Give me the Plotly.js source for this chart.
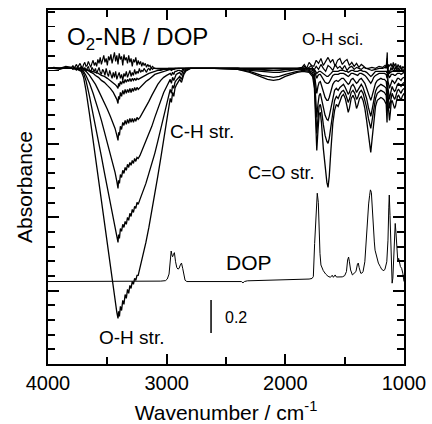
<!DOCTYPE html>
<html>
<head>
<meta charset="utf-8">
<script src="https://cdn.plot.ly/plotly-3.0.1.min.js"></script>
<style>html,body{margin:0;padding:0;background:#fff;}#chart{width:432px;height:424px;}</style>
</head>
<body>
<div id="chart"></div>
<script>
// ---------- data ----------
// difference spectra are stored relative to their common display baseline
var diffOffset = 2.015;

// O-H / C-H region wavenumbers (cm-1)
var wnOH = [4000, 3900, 3800, 3750, 3720, 3700, 3680, 3650, 3620, 3600,
  3575, 3550, 3525, 3500, 3475, 3450, 3435, 3420, 3410, 3405,
  3398, 3390, 3380, 3370, 3360, 3350, 3340, 3330, 3320, 3310,
  3300, 3290, 3280, 3270, 3260, 3250, 3240, 3225, 3200, 3175,
  3150, 3125, 3100, 3075, 3050, 3025, 3000, 2985, 2970, 2960,
  2950, 2940, 2930, 2920, 2905, 2890, 2875, 2865, 2855, 2840,
  2820, 2800];

// fingerprint region wavenumbers (cm-1)
var wnFP = [2600, 2400, 2300, 2200, 2150, 2100, 2050, 2000, 1900, 1850,
  1800, 1770, 1755, 1745, 1735, 1725, 1715, 1705, 1695, 1680,
  1665, 1650, 1640, 1630, 1615, 1600, 1585, 1570, 1555, 1540,
  1525, 1510, 1495, 1480, 1470, 1460, 1445, 1430, 1415, 1400,
  1390, 1375, 1360, 1345, 1330, 1315, 1300, 1290, 1280, 1270,
  1255, 1240, 1225, 1210, 1195, 1180, 1165, 1150, 1143, 1138,
  1130, 1122, 1115, 1108, 1100, 1090, 1080, 1072, 1065, 1055,
  1045, 1035, 1025, 1015, 1000];

// spectrum E (deepest)
var diffE_OH = [0, 0, 0, -0.007, -0.02, -0.061, -0.15, -0.314, -0.491, -0.614,
  -0.763, -0.913, -1.063, -1.213, -1.363, -1.513, -1.595, -1.663, -1.704, -1.656,
  -1.691, -1.622, -1.65, -1.581, -1.609, -1.541, -1.568, -1.506, -1.534, -1.479,
  -1.50, -1.452, -1.472, -1.431, -1.445, -1.411, -1.411, -1.363, -1.282, -1.186,
  -1.084, -0.975, -0.859, -0.736, -0.614, -0.491, -0.368, -0.286, -0.205, -0.232,
  -0.164, -0.191, -0.136, -0.116, -0.095, -0.075, -0.095, -0.055, -0.041, -0.02,
  -0.007, 0];
var diffE_FP = [0, -0.007, -0.027, -0.061, -0.075, -0.082, -0.075, -0.055, -0.027, -0.02,
  -0.027, -0.055, -0.136, -0.341, -0.559, -0.423, -0.314, -0.3, -0.375, -0.545,
  -0.682, -0.777, -0.811, -0.736, -0.545, -0.375, -0.286, -0.245, -0.259, -0.218,
  -0.191, -0.177, -0.205, -0.259, -0.3, -0.273, -0.205, -0.184, -0.211, -0.273,
  -0.252, -0.205, -0.191, -0.218, -0.273, -0.354, -0.464, -0.545, -0.573, -0.491,
  -0.354, -0.259, -0.218, -0.205, -0.198, -0.205, -0.218, -0.245, -0.368, -0.205,
  -0.286, -0.354, -0.3, -0.232, -0.218, -0.245, -0.273, -0.259, -0.218, -0.191,
  -0.184, -0.205, -0.218, -0.191, -0.17];

// spectrum D
var diffD_OH = [0, 0, 0, -0.007, -0.014, -0.034, -0.082, -0.191, -0.307, -0.389,
  -0.491, -0.6, -0.709, -0.818, -0.92, -1.022, -1.084, -1.145, -1.186, -1.132,
  -1.159, -1.091, -1.111, -1.063, -1.084, -1.043, -1.063, -1.016, -1.036, -0.988,
  -1.009, -0.961, -0.982, -0.941, -0.954, -0.913, -0.927, -0.893, -0.845, -0.784,
  -0.716, -0.654, -0.579, -0.498, -0.416, -0.327, -0.245, -0.191, -0.143, -0.17,
  -0.116, -0.136, -0.095, -0.082, -0.068, -0.055, -0.075, -0.041, -0.027, -0.014,
  -0.007, 0];
var diffD_FP = [0, -0.007, -0.02, -0.048, -0.055, -0.061, -0.055, -0.041, -0.02, -0.014,
  -0.02, -0.041, -0.102, -0.273, -0.443, -0.341, -0.259, -0.245, -0.286, -0.382,
  -0.457, -0.498, -0.511, -0.477, -0.382, -0.273, -0.218, -0.191, -0.205, -0.177,
  -0.157, -0.15, -0.17, -0.205, -0.232, -0.211, -0.164, -0.15, -0.17, -0.211,
  -0.198, -0.164, -0.15, -0.17, -0.211, -0.266, -0.341, -0.389, -0.409, -0.361,
  -0.273, -0.205, -0.17, -0.157, -0.15, -0.157, -0.164, -0.184, -0.273, -0.157,
  -0.211, -0.273, -0.232, -0.184, -0.17, -0.191, -0.211, -0.198, -0.17, -0.15,
  -0.143, -0.157, -0.17, -0.15, -0.136];

// spectrum C
var diffC_OH = [0, 0, 0, 0, -0.007, -0.02, -0.048, -0.102, -0.17, -0.218,
  -0.286, -0.354, -0.429, -0.511, -0.586, -0.661, -0.709, -0.77, -0.818, -0.763,
  -0.784, -0.723, -0.743, -0.695, -0.716, -0.675, -0.695, -0.654, -0.675, -0.641,
  -0.661, -0.627, -0.648, -0.614, -0.634, -0.607, -0.614, -0.593, -0.545, -0.498,
  -0.45, -0.395, -0.334, -0.273, -0.211, -0.164, -0.123, -0.095, -0.075, -0.102,
  -0.061, -0.082, -0.055, -0.041, -0.034, -0.027, -0.048, -0.02, -0.014, -0.007,
  0, 0];
var diffC_FP = [0, 0, -0.014, -0.02, -0.027, -0.027, -0.027, -0.02, -0.007, -0.007,
  -0.014, -0.027, -0.068, -0.191, -0.334, -0.245, -0.184, -0.17, -0.205, -0.266,
  -0.32, -0.348, -0.354, -0.327, -0.259, -0.191, -0.15, -0.136, -0.15, -0.13,
  -0.116, -0.109, -0.13, -0.157, -0.177, -0.164, -0.123, -0.109, -0.13, -0.164,
  -0.15, -0.123, -0.109, -0.13, -0.164, -0.205, -0.266, -0.307, -0.327, -0.286,
  -0.211, -0.157, -0.13, -0.116, -0.109, -0.116, -0.123, -0.136, -0.205, -0.116,
  -0.164, -0.211, -0.177, -0.136, -0.123, -0.143, -0.157, -0.15, -0.13, -0.109,
  -0.102, -0.116, -0.123, -0.109, -0.095];

// spectrum B
var diffB_OH = [0, 0, 0, 0, 0, -0.007, -0.02, -0.048, -0.082, -0.109,
  -0.15, -0.191, -0.232, -0.279, -0.327, -0.375, -0.409, -0.457, -0.491, -0.436,
  -0.457, -0.395, -0.416, -0.368, -0.389, -0.354, -0.382, -0.348, -0.375, -0.341,
  -0.368, -0.341, -0.368, -0.341, -0.361, -0.334, -0.348, -0.334, -0.3, -0.266,
  -0.225, -0.184, -0.143, -0.109, -0.082, -0.061, -0.048, -0.041, -0.034, -0.048,
  -0.027, -0.041, -0.02, -0.02, -0.014, -0.014, -0.02, -0.007, -0.007, 0,
  0, 0];
var diffB_FP = [0, 0, -0.007, -0.014, -0.014, -0.014, -0.014, -0.007, 0, 0,
  -0.007, -0.014, -0.034, -0.095, -0.17, -0.123, -0.095, -0.089, -0.116, -0.164,
  -0.198, -0.218, -0.218, -0.198, -0.15, -0.109, -0.089, -0.082, -0.089, -0.075,
  -0.068, -0.068, -0.082, -0.095, -0.109, -0.102, -0.075, -0.068, -0.082, -0.102,
  -0.095, -0.075, -0.068, -0.082, -0.102, -0.136, -0.177, -0.205, -0.218, -0.191,
  -0.136, -0.102, -0.082, -0.075, -0.068, -0.075, -0.075, -0.089, -0.136, -0.075,
  -0.102, -0.136, -0.116, -0.089, -0.082, -0.089, -0.102, -0.095, -0.082, -0.068,
  -0.068, -0.075, -0.082, -0.068, -0.061];

// spectrum A
var diffA_OH = [0, 0, 0, 0, 0, 0, -0.007, -0.02, -0.034, -0.048,
  -0.061, -0.082, -0.095, -0.116, -0.136, -0.164, -0.184, -0.211, -0.239, -0.191,
  -0.211, -0.164, -0.191, -0.15, -0.177, -0.143, -0.17, -0.143, -0.164, -0.136,
  -0.164, -0.136, -0.157, -0.13, -0.15, -0.13, -0.143, -0.13, -0.109, -0.089,
  -0.075, -0.055, -0.041, -0.034, -0.027, -0.02, -0.014, -0.014, -0.007, -0.014,
  -0.007, -0.007, 0, 0, 0, 0, 0, 0, 0, 0,
  0, 0];
var diffA_FP = [0, 0, 0, 0, 0, 0, 0, 0, 0, 0,
  0, -0.007, -0.014, -0.041, -0.068, -0.048, -0.041, -0.041, -0.055, -0.075,
  -0.095, -0.102, -0.102, -0.095, -0.068, -0.048, -0.041, -0.041, -0.041, -0.034,
  -0.034, -0.034, -0.041, -0.048, -0.055, -0.048, -0.034, -0.034, -0.041, -0.048,
  -0.048, -0.034, -0.034, -0.041, -0.048, -0.061, -0.082, -0.095, -0.102, -0.089,
  -0.061, -0.048, -0.041, -0.034, -0.034, -0.034, -0.034, -0.041, -0.068, -0.034,
  -0.048, -0.061, -0.055, -0.041, -0.041, -0.041, -0.048, -0.048, -0.041, -0.034,
  -0.034, -0.034, -0.041, -0.034, -0.027];

// spectrum N3 (small)
var diffN3_OH = [0, 0, 0, 0, 0, 0, -0.007, -0.014, -0.02, -0.027,
  -0.034, -0.048, -0.055, -0.068, -0.082, -0.095, -0.109, -0.123, -0.136, -0.102,
  -0.123, -0.089, -0.109, -0.082, -0.102, -0.075, -0.095, -0.075, -0.089, -0.068,
  -0.089, -0.068, -0.082, -0.068, -0.082, -0.068, -0.075, -0.068, -0.055, -0.048,
  -0.034, -0.027, -0.02, -0.014, -0.014, -0.007, -0.007, 0, 0, 0,
  0, 0, 0, 0, 0, 0, 0, 0, 0, 0,
  0, 0];
var diffN3_FP = [0, 0, 0, 0, 0, 0, 0, 0, 0, 0,
  0, 0, -0.007, -0.02, -0.034, -0.027, -0.02, -0.02, -0.027, -0.034,
  -0.048, -0.055, -0.055, -0.048, -0.034, -0.02, -0.02, -0.02, -0.02, -0.014,
  -0.014, -0.014, -0.02, -0.02, -0.027, -0.02, -0.014, -0.014, -0.02, -0.02,
  -0.02, -0.014, -0.014, -0.02, -0.02, -0.027, -0.041, -0.048, -0.055, -0.048,
  -0.034, -0.02, -0.02, -0.02, -0.02, -0.02, -0.02, -0.02, -0.034, -0.014,
  -0.02, -0.034, -0.027, -0.02, -0.02, -0.02, -0.02, -0.02, -0.02, -0.02,
  -0.02, -0.02, -0.02, -0.02, -0.02];

// noisy early spectra N1, N2 on a finer grid
var wnNoise = [4000, 3950, 3900, 3850,
  3800, 3790, 3780, 3770, 3760, 3750, 3740, 3730, 3720, 3710,
  3700, 3690, 3680, 3670, 3660, 3650, 3640, 3630, 3620, 3610,
  3600, 3590, 3580, 3570, 3560, 3550, 3540, 3530, 3520, 3510,
  3500, 3490, 3480, 3470, 3460, 3450, 3440, 3430, 3420, 3410,
  3400, 3390, 3380, 3370, 3360, 3350, 3340, 3330, 3320, 3310,
  3300, 3290, 3280, 3270, 3260, 3250, 3240, 3230, 3220, 3210,
  3200, 3190, 3180, 3170, 3160, 3150, 3140, 3130, 3120, 3110, 3100,
  3050, 3000, 2950, 2900, 2850, 2800, 2700, 2600, 2500, 2400, 2300, 2200, 2100, 2000, 1900,
  1860, 1840, 1820, 1800, 1780, 1760, 1740, 1720, 1700, 1680,
  1660, 1640, 1620, 1600, 1580, 1560, 1540, 1520, 1500, 1480,
  1460, 1440, 1420, 1400, 1380, 1360, 1340, 1320,
  1300, 1270, 1240, 1210, 1180, 1160, 1150, 1145, 1141, 1137, 1130, 1120,
  1110, 1100, 1090, 1080, 1070, 1060, 1050, 1040, 1030, 1020, 1010, 1000];
var diffN1 = [0, 0.007, 0, 0.014,
  0.007, 0.02, 0, 0.014, 0.027, 0.007, 0.02, 0.034, 0.014, 0,
  0.027, 0.041, 0.014, 0.02, 0.048, 0.027, 0.007, 0.034, 0.055, 0.02,
  0.041, 0.014, 0.061, 0.034, 0.075, 0.027, 0.055, 0.089, 0.041, 0.068,
  0.02, 0.082, 0.055, 0.095, 0.034, 0.075, 0.109, 0.048, 0.089, 0.027,
  0.102, 0.061, 0.082, 0.02, 0.095, 0.055, 0.075, 0.034, 0.089, 0.041,
  0.068, 0.014, 0.061, 0.041, 0.075, 0.02, 0.055, 0.027, 0.048, 0.014,
  0.041, 0.02, 0.034, 0.007, 0.027, 0.014, 0.02, 0, 0.014, 0.007, 0,
  0, 0, 0, 0, 0, 0, 0, 0, 0, 0, 0, 0, 0, 0, 0,
  0.007, 0.027, 0, 0.041, 0.02, 0.014, 0.055, 0.034, 0.068, 0.02,
  0.048, 0.075, 0.041, 0.061, 0.014, 0.055, 0.068, 0.027, 0.048, 0.061,
  0.02, 0.041, 0.014, 0.034, 0.007, 0.027, 0.014, 0,
  0, 0.007, 0, 0.014, 0.007, 0.02, 0.007, 0.041, 0.109, -0.055, 0.027, 0.014,
  0.034, 0.007, 0.041, 0.014, 0.034, 0, 0.027, 0.007, 0.02, -0.014, 0.014, 0];
var diffN2 = [0, 0, -0.007, 0.007,
  0, -0.007, 0.007, 0, -0.014, 0.007, -0.007, 0, 0.014, -0.007,
  -0.014, 0.007, -0.02, 0, 0.014, -0.014, -0.027, 0.007, -0.007, -0.02,
  0, -0.034, -0.014, 0.007, -0.027, -0.041, -0.007, -0.02, -0.048, 0,
  -0.034, -0.055, -0.014, -0.041, -0.068, -0.027, -0.061, -0.02, -0.075, -0.048,
  -0.027, -0.068, -0.041, -0.082, -0.034, -0.055, -0.02, -0.061, -0.041, -0.014,
  -0.055, -0.027, -0.048, -0.007, -0.041, -0.02, -0.034, 0, -0.027, -0.014,
  -0.02, 0, -0.014, -0.027, -0.007, 0, -0.014, 0.007, -0.007, 0, 0,
  -0.007, -0.007, -0.007, 0, 0, 0, 0, 0, 0, 0, -0.007, -0.007, -0.014, -0.007, 0,
  0, 0.014, -0.007, 0.007, 0.02, -0.014, 0.014, -0.007, 0.027, 0,
  -0.02, 0.02, 0.007, -0.014, 0.027, 0, 0.014, -0.007, 0.02, -0.014,
  0.007, 0.014, -0.007, 0.007, 0, -0.007, 0.007, 0,
  -0.007, -0.014, -0.007, 0, 0, 0.007, 0, 0.027, 0.068, -0.082, -0.014, -0.027,
  0.007, -0.014, 0.02, -0.02, 0.014, -0.014, 0.007, -0.02, 0.014, -0.007, -0.014, -0.007];

// reference DOP spectrum (absolute values as displayed)
var wnDOP = [4000, 3800, 3600, 3400, 3200, 3050, 3010, 2995, 2980, 2970,
  2962, 2955, 2950, 2942, 2935, 2925, 2915, 2905, 2895, 2885,
  2875, 2865, 2855, 2845, 2830, 2700, 2500, 2400, 2370, 2357,
  2345, 2320, 2200, 2000, 1900, 1800, 1775, 1764, 1753, 1742,
  1731, 1722, 1715, 1708, 1700, 1690, 1680, 1660, 1640, 1620,
  1605, 1595, 1580, 1570, 1540, 1520, 1500, 1485, 1475, 1467,
  1460, 1450, 1435, 1420, 1405, 1392, 1385, 1378, 1365, 1355,
  1345, 1330, 1320, 1305, 1298, 1290, 1283, 1275, 1268, 1259,
  1250, 1244, 1230, 1216, 1200, 1188, 1170, 1160, 1145, 1135,
  1128, 1124, 1118, 1112, 1106, 1100, 1094, 1088, 1080, 1074,
  1068, 1060, 1052, 1045, 1040, 1030, 1020, 1010, 1000];
var absDOP = [0.562, 0.562, 0.562, 0.564, 0.562, 0.565, 0.568, 0.579, 0.613, 0.686,
  0.770, 0.742, 0.731, 0.748, 0.759, 0.697, 0.658, 0.647, 0.652, 0.675,
  0.688, 0.652, 0.602, 0.571, 0.562, 0.562, 0.565, 0.566, 0.562, 0.553,
  0.562, 0.567, 0.569, 0.573, 0.576, 0.579, 0.583, 0.596, 0.821, 1.046,
  1.164, 1.102, 0.900, 0.754, 0.675, 0.647, 0.636, 0.613, 0.598, 0.591,
  0.605, 0.591, 0.607, 0.593, 0.591, 0.594, 0.602, 0.630, 0.709, 0.729,
  0.697, 0.641, 0.607, 0.619, 0.630, 0.681, 0.688, 0.658, 0.619, 0.619,
  0.630, 0.697, 0.832, 1.069, 1.091, 1.147, 1.187, 1.170, 1.046, 0.936,
  0.832, 0.776, 0.720, 0.688, 0.664, 0.645, 0.636, 0.647, 0.697, 0.844,
  1.069, 1.152, 1.012, 0.787, 0.585, 0.551, 0.585, 0.731, 0.900, 0.958,
  0.900, 0.765, 0.697, 0.720, 0.697, 0.664, 0.652, 0.619, 0.562];

// ticks
var xTickVals = [4000, 3000, 2000, 1000];
var xTickText = ['4000', '3000', '2000', '1000'];
var xMinorVals = [3500, 2500, 1500];

// ---------- build traces ----------
var FONT = 'Liberation Sans, Arial, Helvetica, sans-serif';
function shifted(arr) { return arr.map(function (v) { return v + diffOffset; }); }
var wnAll = wnOH.concat(wnFP);
var traces = [];
var lineStyle = {color: '#000', width: 1.3};
traces.push({x: wnNoise, y: shifted(diffN1), type: 'scatter', mode: 'lines', line: {color: '#000', width: 1.2}});
traces.push({x: wnNoise, y: shifted(diffN2), type: 'scatter', mode: 'lines', line: {color: '#000', width: 1.2}});
[[diffN3_OH, diffN3_FP], [diffA_OH, diffA_FP], [diffB_OH, diffB_FP],
 [diffC_OH, diffC_FP], [diffD_OH, diffD_FP], [diffE_OH, diffE_FP]].forEach(function (p) {
  traces.push({x: wnAll, y: shifted(p[0].concat(p[1])), type: 'scatter', mode: 'lines', line: lineStyle});
});
// DOP drawn on the overlay axes (same ranges) that carry the long ticks
traces.push({x: wnDOP, y: absDOP, xaxis: 'x2', yaxis: 'y2', type: 'scatter', mode: 'lines', line: {color: '#000', width: 1}});

function ann(text, x, y, size, xanchor) {
  return {text: text, x: x, y: y, xref: 'x', yref: 'y', showarrow: false,
    xanchor: xanchor || 'center', yanchor: 'middle', font: {family: FONT, size: size, color: '#000'}};
}

var axisCommon = {
  showline: true, linecolor: '#000', linewidth: 1.8, mirror: 'ticks',
  showgrid: false, zeroline: false, ticks: 'inside', tickwidth: 1.8, tickcolor: '#000'
};

var layout = {
  width: 432, height: 424,
  margin: {l: 48, r: 28, t: 10, b: 60},
  paper_bgcolor: '#fff', plot_bgcolor: '#fff',
  showlegend: false,
  hovermode: false,
  xaxis: Object.assign({}, axisCommon, {
    range: [4000, 1000], autorange: false,
    tickmode: 'array', tickvals: xTickVals, ticktext: xTickText, ticklen: 10,
    tickfont: {family: FONT, size: 20, color: '#000'},
    title: {text: 'Wavenumber / cm<sup>-1</sup>', font: {family: FONT, size: 21, color: '#000'}, standoff: 13}
  }),
  yaxis: Object.assign({}, axisCommon, {
    range: [0, 2.413], autorange: false,
    tick0: 0, dtick: 0.1, ticklen: 7, showticklabels: false,
    title: {text: 'Absorbance', font: {family: FONT, size: 21, color: '#000'}, standoff: 8}
  }),
  xaxis2: Object.assign({}, axisCommon, {
    overlaying: 'x', anchor: 'y2', side: 'bottom',
    range: [4000, 1000], autorange: false,
    tickmode: 'array', tickvals: xMinorVals, ticklen: 7, showticklabels: false
  }),
  yaxis2: Object.assign({}, axisCommon, {
    overlaying: 'y', anchor: 'x2', side: 'left',
    range: [0, 2.413], autorange: false,
    tick0: 0, dtick: 0.5, ticklen: 11, showticklabels: false
  }),
  annotations: [
    ann('O<sub>2</sub>-NB / DOP', 3857, 2.219, 24, 'left'),
    ann('O-H sci.', 1601, 2.212, 17),
    ann('C-H str.', 2705, 1.584, 19),
    ann('C=O str.', 2029, 1.30, 18),
    ann('DOP', 2306, 0.692, 21),
    ann('0.2', 2416, 0.314, 16),
    ann('O-H str.', 3295, 0.184, 19)
  ],
  shapes: [
    {type: 'line', xref: 'x', yref: 'y', x0: 2626, x1: 2626, y0: 0.211, y1: 0.436,
     line: {color: '#000', width: 1.5}}
  ]
};

Plotly.newPlot('chart', traces, layout, {displayModeBar: false, staticPlot: true});
</script>
</body>
</html>
